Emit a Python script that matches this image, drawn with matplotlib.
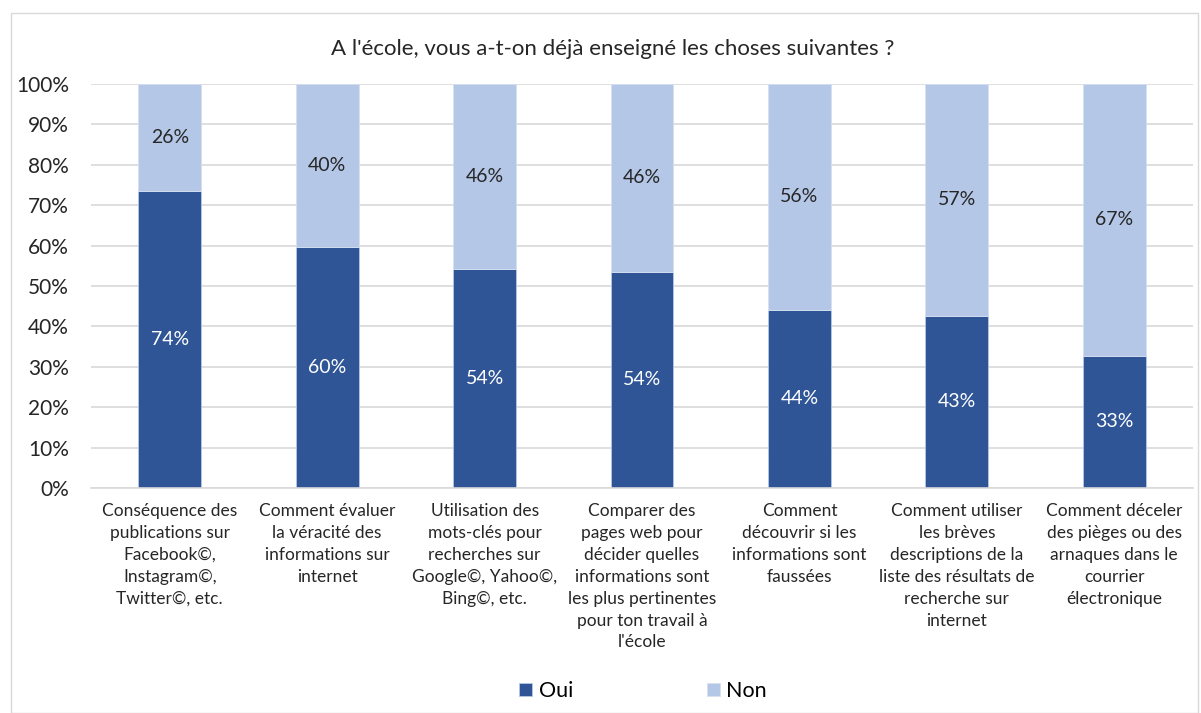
import matplotlib.pyplot as plt
from matplotlib.patches import Rectangle

plt.rcParams["font.family"] = ["Lato", "DejaVu Sans"]

categories = [
    "Conséquence des\npublications sur\nFacebook©,\nInstagram©,\nTwitter©, etc.",
    "Comment évaluer\nla véracité des\ninformations sur\ninternet",
    "Utilisation des\nmots-clés pour\nrecherches sur\nGoogle©, Yahoo©,\nBing©, etc.",
    "Comparer des\npages web pour\ndécider quelles\ninformations sont\nles plus pertinentes\npour ton travail à\nl'école",
    "Comment\ndécouvrir si les\ninformations sont\nfaussées",
    "Comment utiliser\nles brèves\ndescriptions de la\nliste des résultats de\nrecherche sur\ninternet",
    "Comment déceler\ndes pièges ou des\narnaques dans le\ncourrier\nélectronique",
]
oui = [73.6, 59.6, 54.2, 53.5, 44.1, 42.6, 32.7]
non = [26.4, 40.4, 45.8, 46.5, 55.9, 57.4, 67.3]
oui_labels = ["74%", "60%", "54%", "54%", "44%", "43%", "33%"]
non_labels = ["26%", "40%", "46%", "46%", "56%", "57%", "67%"]

oui_color = "#2F5597"
non_color = "#B4C7E7"

fig = plt.figure(figsize=(12.01, 7.13), dpi=100)
fig.patches.append(Rectangle((11 / 1201, 0.0), 1187 / 1201, 1 - 13 / 713,
                             transform=fig.transFigure, fill=False,
                             edgecolor="#D9D9D9", linewidth=1))
ax = fig.add_axes([91 / 1201, 1 - 488 / 713, 1102 / 1201, 404 / 713])

x = list(range(len(categories)))
b1 = ax.bar(x, oui, width=0.4, color=oui_color, label="Oui",
            edgecolor="#B4C7E7", linewidth=0.6)
b2 = ax.bar(x, non, width=0.4, bottom=oui, color=non_color, label="Non",
            edgecolor="#D6E0F2", linewidth=0.6)

for i in x:
    ax.text(i, oui[i] / 2, oui_labels[i], ha="center", va="center",
            color="white", fontsize=14)
    ax.text(i, oui[i] + non[i] / 2, non_labels[i], ha="center", va="center",
            color="#262626", fontsize=14)

ax.set_xlim(-0.5, len(categories) - 0.5)
ax.set_ylim(0, 100)
ax.set_yticks(range(0, 101, 10))
ax.set_yticklabels([f"{v}%" for v in range(0, 101, 10)], fontsize=15)
ax.set_xticks(x)
ax.set_xticklabels(categories, fontsize=12.5, linespacing=1.45, va="top")
ax.tick_params(axis="both", length=0, colors="#262626")
ax.tick_params(axis="x", pad=11)
ax.tick_params(axis="y", pad=16)
ax.grid(axis="y", color="#D9D9D9", linewidth=1.2)
ax.set_axisbelow(True)
for s in ["top", "right", "left"]:
    ax.spines[s].set_visible(False)
ax.spines["bottom"].set_color("#D9D9D9")
ax.spines["bottom"].set_linewidth(1.2)

fig.text(613 / 1201, 1 - 49 / 713, "A l'école, vous a-t-on déjà enseigné les choses suivantes ?",
         ha="center", va="center", fontsize=16, color="#262626")

fig.legend(handles=[b1, b2], labels=["Oui", "Non"], loc="center",
           bbox_to_anchor=(643 / 1201, 1 - 691 / 713), ncol=2, frameon=False,
           fontsize=15.5, handlelength=0.6, handleheight=0.6,
           handletextpad=0.3, columnspacing=6.2)

fig.savefig("out.png", dpi=100)
